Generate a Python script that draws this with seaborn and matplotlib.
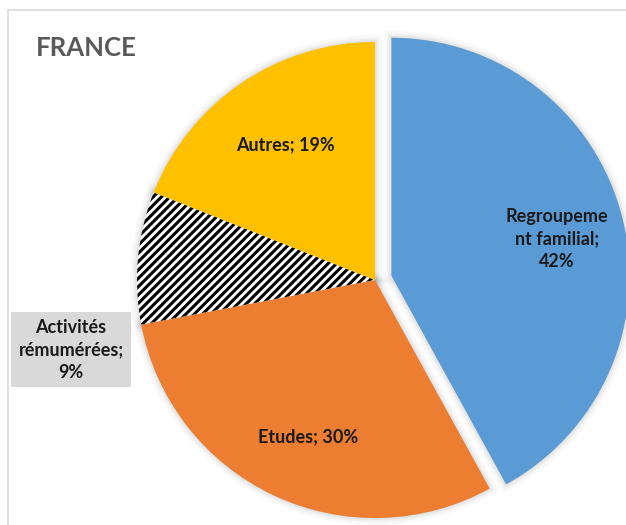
import matplotlib
matplotlib.use("Agg")
import matplotlib.pyplot as plt
import matplotlib.patheffects as pe
from matplotlib.patches import Rectangle, Wedge
import seaborn as sns

# ---- data ----
categories = ["Regroupement familial", "Etudes", "Activités rémumérées", "Autres"]
values = [42, 30, 9, 19]
labels = ["Regroupeme\nnt familial;\n42%", "Etudes; 30%", "Activités\nrémumérées;\n9%", "Autres; 19%"]
colors = ["#5B9BD5", "#ED7D31", "#FFFFFF", "#FFC000"]
explode = [17, 0, 0, 0]
title = "FRANCE"

sns.set_theme(style="white")
plt.rcParams['font.family'] = ['Lato', 'DejaVu Sans']
plt.rcParams['hatch.linewidth'] = 2.2
plt.rcParams['hatch.color'] = 'black'

W, H = 626, 525
fig = plt.figure(figsize=(W / 100, H / 100), dpi=100)
ax = fig.add_axes([0, 0, 1, 1])

wedges, _ = ax.pie(values, colors=colors, explode=explode, startangle=90,
                   counterclock=False, center=(375, H - 280), radius=238,
                   wedgeprops=dict(linewidth=0, zorder=2))
wedges[2].set_hatch('////')
wedges[2].set_edgecolor('black')
wedges[2].set_linewidth(0)

# soft shadow halo behind slices
for w in wedges:
    s = Wedge(w.center, w.r, w.theta1, w.theta2, facecolor='#CCCCCC',
              edgecolor='none', zorder=1,
              path_effects=[pe.Stroke(linewidth=10, foreground='black', alpha=0.025),
                            pe.Stroke(linewidth=6, foreground='black', alpha=0.035),
                            pe.Stroke(linewidth=3, foreground='black', alpha=0.045),
                            pe.Normal()])
    ax.add_patch(s)

ax.set_xlim(0, W)
ax.set_ylim(0, H)
ax.set_aspect('equal')
ax.axis('off')

# frame
ax.add_patch(Rectangle((8, -10), W + 20, H, fill=False,
                       edgecolor='#D9D9D9', linewidth=1.2, zorder=0))

txt_color = '#1A1A1A'
fs = 13
ax.text(557, H - 239, labels[0], ha='center', va='center', fontsize=fs,
        fontweight='bold', color=txt_color, linespacing=1.38, zorder=5)
ax.text(308, H - 437, labels[1], ha='center', va='center', fontsize=fs,
        fontweight='bold', color=txt_color, zorder=5)
ax.add_patch(Rectangle((11, H - 387), 120, 75, facecolor='#D9D9D9', edgecolor='none', zorder=3))
ax.text(71, H - 350, labels[2], ha='center', va='center', fontsize=fs,
        fontweight='bold', color=txt_color, linespacing=1.38, zorder=5)
ax.text(285, H - 145, labels[3], ha='center', va='center', fontsize=fs,
        fontweight='bold', color=txt_color, zorder=5)

ax.text(36, H - 48, title, ha='left', va='center', fontsize=18.5,
        fontweight='bold', color='#595959', zorder=5)

fig.savefig("out.png", dpi=100)
